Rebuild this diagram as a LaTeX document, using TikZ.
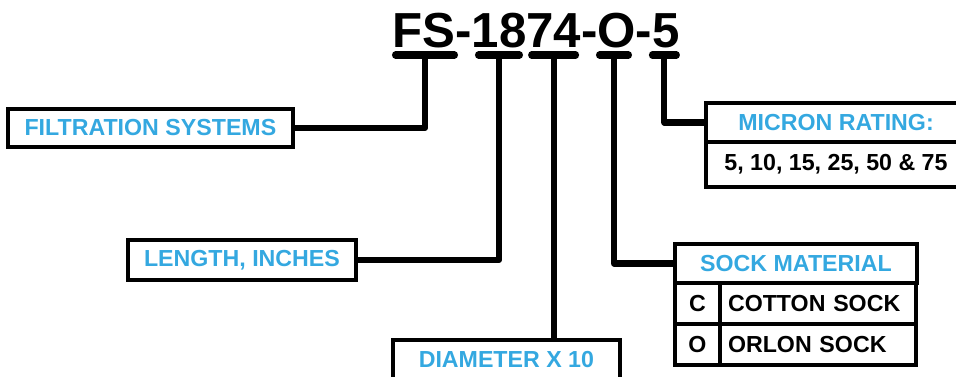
\documentclass[tikz,border=0pt]{standalone}
\usepackage{fontspec}
\setmainfont{Liberation Sans}
\usetikzlibrary{positioning}
\definecolor{labelblue}{RGB}{52,168,224}

\begin{document}
\begin{tikzpicture}[
  lead/.style={line width=4.3pt, line join=round},
  bar/.style={line width=5pt, line cap=round},
  box/.style={draw, line width=2.5pt, inner sep=0pt, outer sep=0pt,
    font=\fontsize{16.5}{18}\selectfont\bfseries},
  head/.style={box, text=labelblue},
  cell/.style={box, text=black}]
\useasboundingbox (0,0) rectangle (23.9,-9.4);
% part number and the bars under its groups
\node[anchor=base, font=\fontsize{35}{40}\selectfont\bfseries]
  (code) at (13.4,-1.175) {FS-1874-O-5};
\foreach \name/\x/\w in {fs/10.625/1.475, len/12.475/1.025,
    dia/13.84/1.1, mat/15.35/0.725, mic/16.61/0.6}{
  \draw[bar] (\x-\w/2,-1.375) -- (\x+\w/2,-1.375);
  \coordinate (\name) at (\x,-1.375);
}
% single boxes
\node[head, minimum width=7.125cm, minimum height=0.95cm]
  (filt) at (3.76,-3.2) {FILTRATION SYSTEMS};
\node[head, minimum width=5.7cm, minimum height=1cm]
  (length) at (6.05,-6.5) {LENGTH, INCHES};
\node[head, minimum width=5.675cm, minimum height=1cm]
  (diam) at (12.66,-9.0) {DIAMETER X 10};
% micron table
\node[head, minimum width=6.5cm, minimum height=0.975cm]
  (michead) at (20.9,-3.0625) {MICRON RATING:};
\node[cell, minimum width=6.5cm, minimum height=1.125cm, anchor=north west]
  (micval) at (michead.south west) {5, 10, 15, 25, 50 \& 75};
% sock material table
\node[head, minimum width=6.05cm, minimum height=0.975cm]
  (mathead) at (19.9,-6.5875) {SOCK MATERIAL};
\node[cell, minimum width=1.125cm, minimum height=1.025cm, anchor=north west]
  (c) at (mathead.south west) {C};
\node[cell, minimum height=1.025cm, anchor=north west,
  text width=4.5cm, inner xsep=0.2cm, align=left]
  (cotton) at (c.north east) {COTTON SOCK};
\node[cell, minimum width=1.125cm, minimum height=1.025cm, anchor=north west]
  (o) at (c.south west) {O};
\node[cell, minimum height=1.025cm, anchor=north west,
  text width=4.5cm, inner xsep=0.2cm, align=left]
  (orlon) at (o.north east) {ORLON SOCK};
% leaders
\draw[lead] (fs) |- (filt.east);
\draw[lead] (len) |- (length.east);
\draw[lead] (dia) -- (dia |- diam.north);
\draw[lead] (mat) |- (mathead.west);
\draw[lead] (mic) |- (michead.west);
\end{tikzpicture}
\end{document}
